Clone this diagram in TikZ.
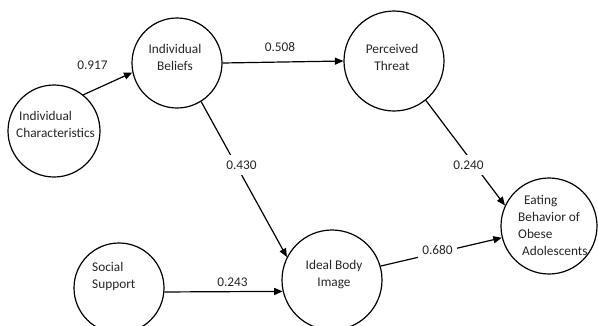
\documentclass[tikz,border=0pt]{standalone}
\usepackage{fontspec}
\setmainfont{Carlito}
\usetikzlibrary{arrows.meta}
\begin{document}
\begin{tikzpicture}[x=1pt,y=-1pt,
  construct/.style={circle,draw=black,line width=1.2pt,inner sep=0pt},
  txt/.style={font=\fontsize{13.3}{17}\selectfont,text=black!85,inner sep=0pt},
  coef/.style={font=\fontsize{13.3}{17}\selectfont,text=black!85,inner sep=2pt},
  gapcoef/.style={coef,fill=white,inner xsep=4pt,inner ysep=6pt},
  path/.style={line width=1.2pt,-{Triangle[length=8.5pt,width=7pt]}}]
\clip (0,0) rectangle (598,325);
\fill[white] (0,0) rectangle (598,325);
% constructs
\node[construct,minimum size=92pt] (ic) at (54,131) {};
\node[construct,minimum size=90pt] (ib) at (177,63) {};
\node[construct,minimum size=100pt] (pt) at (394,61) {};
\node[construct,minimum size=90pt] (ss) at (119,288) {};
\node[construct,minimum size=100pt] (ibi) at (332,280) {};
\node[construct,minimum size=96pt] (eb) at (549,226) {};
% texts
\node[txt,align=center] (tib) at (175,57) {Individual\\Beliefs};
\node[txt,align=left,anchor=west] (tic) at (16,124) {\hspace{3pt}Individual\\Characteristics};
\node[txt,align=center] (tpt) at (392,57) {Perceived\\Threat};
\node[txt,align=left,anchor=west] (tss) at (92,276) {Social\\Support};
\node[txt,align=center] (tibi) at (334,275) {Ideal Body\\Image};
\node[txt,align=left,anchor=west] (teb) at (518,225) {\hspace{6pt}Eating\\Behavior of\\Obese\\\hspace{4pt}Adolescents};
% paths
\draw[path] (ic.51.5) -- (ib.192);
\draw[path] (ib.east) -- (pt.west);
\draw[path] (ib.-58) -- (ibi.153);
\draw[path] (pt.-51.5) -- (eb.155);
\draw[path] (ss.-5) -- (ibi.193.5);
\draw[path] (ibi.16.7) -- (eb.194);
% coefficients
\node[coef] (c1) at (92.5,65) {0.917};
\node[coef] (c2) at (280,47) {0.508};
\node[gapcoef] (c3) at (241.5,165) {0.430};
\node[gapcoef] (c4) at (468.5,165) {0.240};
\node[coef] (c5) at (232.5,282) {0.243};
\node[gapcoef] (c6) at (437.5,250) {0.680};
\end{tikzpicture}
\end{document}
